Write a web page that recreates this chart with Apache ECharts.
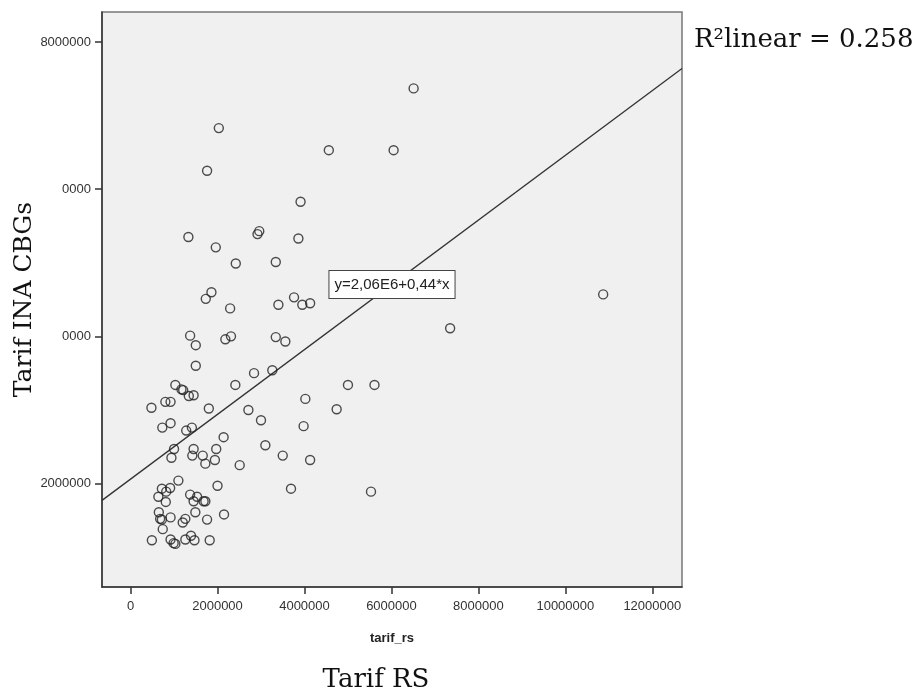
<!DOCTYPE html>
<html>
<head>
<meta charset="utf-8">
<style>
  html, body { margin: 0; padding: 0; background: #fff; }
  #main { width: 922px; height: 695px; }
</style>
<script src="https://cdn.jsdelivr.net/npm/echarts@6/dist/echarts.min.js"></script>
</head>
<body>
<div id="main"></div>
<script>
// tarif_rs (x) and Tarif INA CBGs (y)
const tarifRS = [
  6510000, 2030000, 4560000, 6050000, 1760000, 3910000, 1330000, 2960000, 2920000, 3860000,
  1960000, 2420000, 3340000, 1860000, 1730000, 2290000, 3400000, 3760000, 3950000, 4130000,
  1370000, 1500000, 2180000, 2310000, 3340000, 3560000, 1500000, 2840000, 3260000, 1030000,
  1170000, 1210000, 1340000, 1450000, 2410000, 5000000, 5610000, 480000, 800000, 920000,
  1800000, 2710000, 4020000, 4740000, 3000000, 730000, 920000, 1280000, 1410000, 3980000,
  2140000, 1000000, 940000, 1450000, 1420000, 1660000, 1970000, 1940000, 1720000, 3100000,
  3500000, 4130000, 2510000, 1100000, 720000, 820000, 910000, 640000, 810000, 1370000,
  1530000, 1450000, 1680000, 1720000, 2000000, 3690000, 5530000, 650000, 680000, 720000,
  920000, 1200000, 1260000, 1490000, 1760000, 2150000, 740000, 490000, 920000, 990000,
  1030000, 1260000, 1390000, 1470000, 1820000, 10870000, 7350000
];
const tarifINA = [
  7370000, 6830000, 6530000, 6530000, 6250000, 5830000, 5350000, 5430000, 5390000, 5330000,
  5210000, 4990000, 5010000, 4600000, 4510000, 4380000, 4430000, 4530000, 4430000, 4450000,
  4010000, 3880000, 3960000, 4000000, 3990000, 3930000, 3600000, 3500000, 3540000, 3340000,
  3280000, 3270000, 3190000, 3200000, 3340000, 3340000, 3340000, 3030000, 3110000, 3110000,
  3020000, 3000000, 3150000, 3010000, 2860000, 2760000, 2820000, 2720000, 2760000, 2780000,
  2630000, 2470000, 2350000, 2470000, 2380000, 2380000, 2470000, 2320000, 2270000, 2520000,
  2380000, 2320000, 2250000, 2040000, 1930000, 1890000, 1940000, 1820000, 1750000, 1850000,
  1820000, 1760000, 1760000, 1760000, 1970000, 1930000, 1890000, 1610000, 1520000, 1510000,
  1540000, 1470000, 1520000, 1610000, 1510000, 1580000, 1380000, 1230000, 1240000, 1190000,
  1180000, 1240000, 1290000, 1230000, 1230000, 4570000, 4110000
];

// fit line y = 2,06E6 + 0,44*x, end points at the plot edges
const fitX = [-657000, 12683000];
const fitY = [1771000, 7640500];

const xTicks = [0, 2000000, 4000000, 6000000, 8000000, 10000000, 12000000];
const xTickLabels = ['0', '2000000', '4000000', '6000000', '8000000', '10000000', '12000000'];
const yTicks = [2000000, 4000000, 6000000, 8000000];
const yTickLabels = ['2000000', '0000', '0000', '8000000'];

const points = tarifRS.map((x, i) => [x, tarifINA[i]]);
const fitLine = fitX.map((x, i) => [x, fitY[i]]);

const chart = echarts.init(document.getElementById('main'));

const tickFont = { fontFamily: 'Liberation Sans, Arial, sans-serif', fontSize: 13, color: '#333' };
const serif = '"DejaVu Serif", Georgia, serif';

const option = {
  animation: false,
  grid: {
    left: 102, right: 240, top: 12, bottom: 108,
    containLabel: false,
    outerBoundsMode: 'none',
    show: true, backgroundColor: '#f0f0f0', borderColor: '#777', borderWidth: 1.5
  },
  xAxis: {
    type: 'value',
    min: -657000,
    max: 12683000,
    name: 'tarif_rs',
    nameLocation: 'middle',
    nameGap: 45,
    nameMoveOverlap: false,
    nameTextStyle: { fontFamily: 'Liberation Sans, Arial, sans-serif', fontSize: 13, fontWeight: 'bold', color: '#222' },
    axisLine: { show: true, onZero: false, lineStyle: { color: '#333', width: 1.5 } },
    axisTick: { show: true, length: 7, customValues: xTicks, lineStyle: { color: '#333', width: 1.5 } },
    axisLabel: Object.assign({
      customValues: xTicks,
      margin: 13,
      formatter: (v) => xTickLabels[xTicks.indexOf(v)]
    }, tickFont),
    splitLine: { show: false }
  },
  yAxis: {
    type: 'value',
    min: 594000,
    max: 8408000,
    name: 'Tarif INA CBGs',
    nameLocation: 'middle',
    nameRotate: 90,
    nameGap: 65,
    nameMoveOverlap: false,
    nameTextStyle: { fontFamily: serif, fontSize: 25, color: '#111' },
    axisLine: { show: true, onZero: false, lineStyle: { color: '#333', width: 1.5 } },
    axisTick: { show: true, length: 7, customValues: yTicks, lineStyle: { color: '#333', width: 1.5 } },
    axisLabel: Object.assign({
      customValues: yTicks,
      margin: 11,
      formatter: (v) => yTickLabels[yTicks.indexOf(v)]
    }, tickFont),
    splitLine: { show: false }
  },
  series: [
    {
      type: 'scatter',
      data: points,
      symbol: 'circle',
      symbolSize: 9,
      itemStyle: { color: 'rgba(0,0,0,0)', borderColor: '#222', borderWidth: 1.4 },
      z: 3
    },
    {
      type: 'line',
      data: fitLine,
      showSymbol: false,
      silent: true,
      lineStyle: { color: '#333', width: 1.3 },
      z: 2
    }
  ],
  graphic: [
    {
      type: 'text',
      z: 10,
      style: {
        text: 'y=2,06E6+0,44*x',
        x: 392, y: 284.5,
        align: 'center', verticalAlign: 'middle',
        font: '15px "Liberation Sans", Arial, sans-serif',
        fill: '#222',
        backgroundColor: '#fff',
        borderColor: '#444',
        borderWidth: 1,
        padding: [5, 5],
        lineHeight: 17
      }
    },
    {
      type: 'text',
      style: {
        text: 'R²linear = 0.258',
        x: 694, y: 40,
        align: 'left', verticalAlign: 'middle',
        font: '26px ' + serif,
        fill: '#111'
      }
    },
    {
      type: 'text',
      style: {
        text: 'Tarif RS',
        x: 376, y: 680,
        align: 'center', verticalAlign: 'middle',
        font: '26px ' + serif,
        fill: '#111'
      }
    }
  ]
};

chart.setOption(option);
</script>
</body>
</html>
